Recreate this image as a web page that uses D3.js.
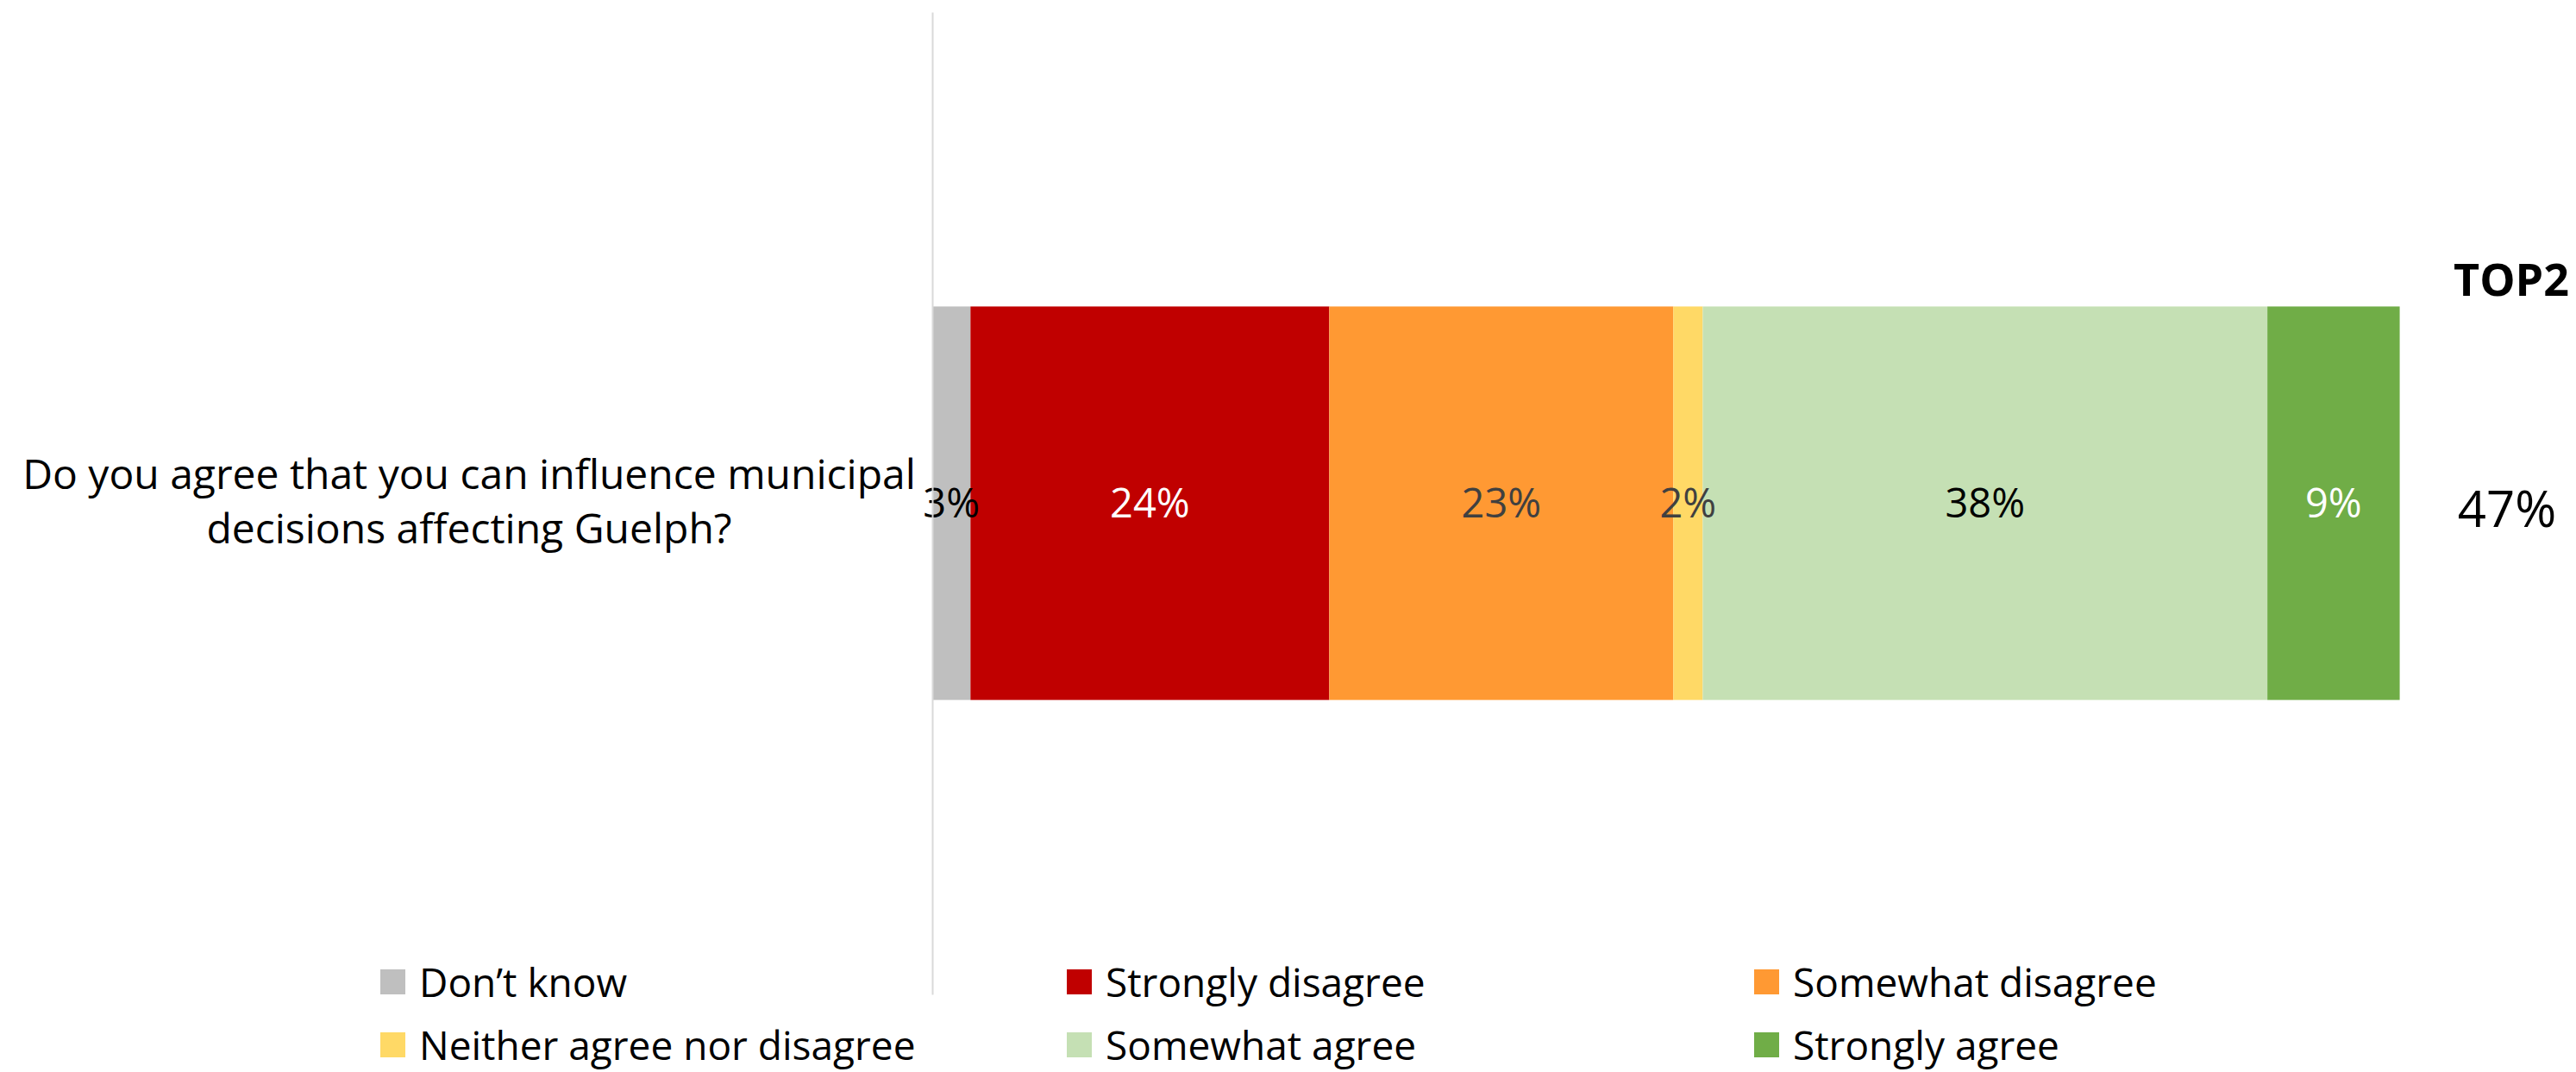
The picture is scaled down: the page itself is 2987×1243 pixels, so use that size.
<!DOCTYPE html>
<html>
<head>
<meta charset="utf-8">
<script src="https://cdn.jsdelivr.net/npm/d3@7"></script>
<style>
  html, body { margin: 0; padding: 0; background: #fff; }
  svg text { font-family: "Open Sans", "Noto Sans", sans-serif; }
</style>
</head>
<body>
<svg id="chart" width="2987" height="1243"></svg>
<script>
// ---- Data ----
const categories = ["Do you agree that you can influence municipal decisions affecting Guelph?"];
const categoryLines = [["Do you agree that you can influence municipal", "decisions affecting Guelph?"]];
const seriesNames = ["Don\u2019t know", "Strongly disagree", "Somewhat disagree", "Neither agree nor disagree", "Somewhat agree", "Strongly agree"];
const seriesValues = [2.6, 24.4, 23.4, 2.0, 38.4, 9.0];
const seriesLabels = ["3%", "24%", "23%", "2%", "38%", "9%"];
const top2Label = "TOP2";
const top2Values = ["47%"];

// ---- Styles ----
const colors = ["#BFBFBF", "#C00000", "#FF9933", "#FFD966", "#C5E0B4", "#70AD47"];
const labelColors = ["#000000", "#FFFFFF", "#404040", "#404040", "#000000", "#FFFFFF"];

const svg = d3.select("#chart");
const plot = { left: 1081, right: 2786, top: 14, bottom: 1153 };

const x = d3.scaleLinear().domain([0, 100]).range([plot.left, plot.right]);
const y = d3.scaleBand().domain(categories).range([plot.top, plot.bottom])
  .paddingInner(0.428).paddingOuter(0.428);

const row = {};
seriesNames.forEach((s, i) => row[s] = seriesValues[i]);
row.category = categories[0];
const stacked = d3.stack().keys(seriesNames)([row]);

// bars
const g = svg.append("g");
stacked.forEach((layer, i) => {
  g.selectAll(null).data(layer).enter().append("rect")
    .attr("x", d => x(d[0]))
    .attr("width", d => x(d[1]) - x(d[0]))
    .attr("y", d => y(d.data.category))
    .attr("height", y.bandwidth())
    .attr("fill", colors[i]);
});

// y axis line (category axis)
const yAxis = d3.axisLeft(y).tickSize(0).tickFormat("");
const ya = svg.append("g").attr("transform", `translate(${plot.left},0)`).call(yAxis);
ya.select(".domain").attr("stroke", "#D9D9D9").attr("stroke-width", 2);

// data labels
stacked.forEach((layer, i) => {
  g.selectAll(null).data(layer).enter().append("text")
    .attr("x", d => (x(d[0]) + x(d[1])) / 2)
    .attr("y", d => y(d.data.category) + y.bandwidth() / 2)
    .attr("dy", "0.36em")
    .attr("text-anchor", "middle")
    .attr("font-size", 47)
    .attr("fill", labelColors[i])
    .text(seriesLabels[i]);
});

// category labels
categories.forEach((c, ci) => {
  const cy = y(c) + y.bandwidth() / 2;
  const t = svg.append("text")
    .attr("text-anchor", "middle")
    .attr("font-size", 48)
    .attr("fill", "#000");
  categoryLines[ci].forEach((ln, li) => {
    t.append("tspan").attr("x", 544).attr("y", cy - 17 + li * 63).text(ln);
  });
});

// TOP2 column
svg.append("text")
  .attr("x", 2912).attr("y", 343)
  .attr("text-anchor", "middle")
  .attr("font-size", 52).attr("font-weight", "bold")
  .attr("fill", "#000")
  .text(top2Label);
categories.forEach((c, ci) => {
  svg.append("text")
    .attr("x", 2907).attr("y", y(c) + y.bandwidth() / 2 + 27)
    .attr("text-anchor", "middle")
    .attr("font-size", 58)
    .attr("fill", "#000")
    .text(top2Values[ci]);
});

// legend
const legendCols = [441, 1237, 2034];
const legendRows = [1139, 1212];
const legend = svg.append("g");
seriesNames.forEach((s, i) => {
  const lx = legendCols[i % 3];
  const ly = legendRows[Math.floor(i / 3)];
  legend.append("rect")
    .attr("x", lx).attr("y", ly - 15)
    .attr("width", 29).attr("height", 29)
    .attr("fill", colors[i]);
  legend.append("text")
    .attr("x", lx + 45).attr("y", ly)
    .attr("dy", "0.36em")
    .attr("font-size", 46)
    .attr("fill", "#000")
    .text(s);
});
</script>
</body>
</html>
